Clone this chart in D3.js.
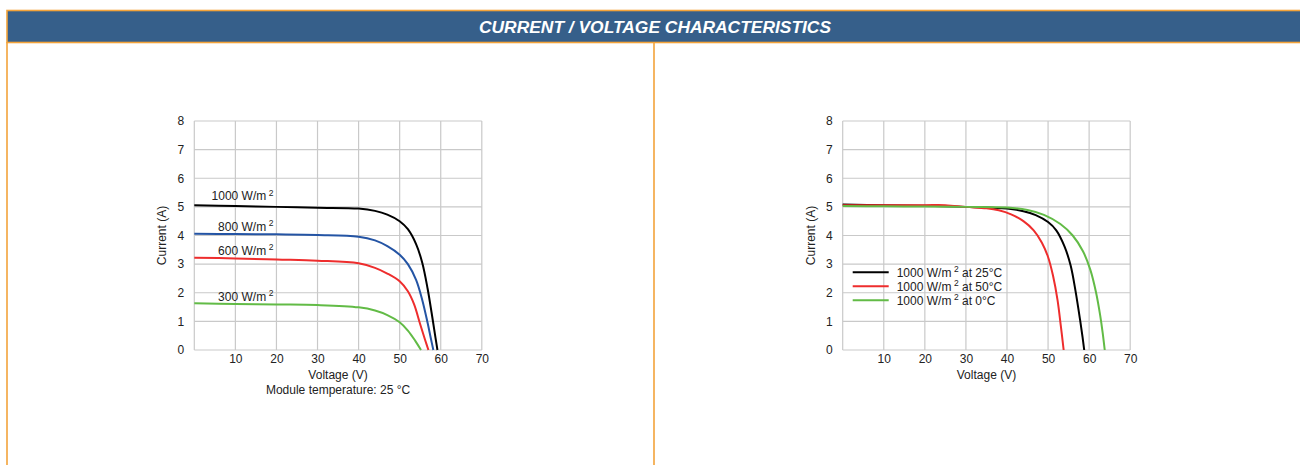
<!DOCTYPE html>
<html>
<head>
<meta charset="utf-8">
<script src="https://cdn.jsdelivr.net/npm/d3@7"></script>
<style>
  body { margin: 0; background: #fff; }
  svg { display: block; font-family: "Liberation Sans", Arial, sans-serif; }
</style>
</head>
<body>
<svg id="page" width="1300" height="465"></svg>
<script>
// ---- data ----
const pageTitle = "CURRENT / VOLTAGE CHARACTERISTICS";
const xTicks = [10, 20, 30, 40, 50, 60, 70];
const yTicks = [0, 1, 2, 3, 4, 5, 6, 7, 8];

// left chart: irradiance at 25 °C  [voltage, current]
const irr1000 = [[0, 5.06], [10, 5.03], [20, 5.0], [30, 4.97], [40, 4.94], [44, 4.86], [47, 4.73], [50, 4.5], [52, 4.22], [54, 3.7], [55.5, 3.05], [56.8, 2.15], [58, 1.1], [58.7, 0.45], [59.2, 0]];
const irr800 = [[0, 4.06], [10, 4.05], [20, 4.04], [30, 4.02], [40, 3.96], [44, 3.83], [47, 3.63], [50, 3.33], [52, 3.0], [54, 2.45], [55.5, 1.75], [56.8, 0.95], [57.6, 0.4], [58.2, 0]];
const irr600 = [[0, 3.22], [10, 3.2], [20, 3.16], [30, 3.12], [40, 3.03], [44, 2.87], [47, 2.67], [50, 2.4], [52, 2.05], [53.5, 1.6], [55, 0.9], [56.2, 0.35], [57, 0]];
const irr300 = [[0, 1.63], [10, 1.61], [20, 1.59], [30, 1.57], [40, 1.49], [44, 1.38], [47, 1.22], [50, 0.97], [52, 0.68], [53.8, 0.32], [55.2, 0]];
const irrNames = ["1000 W/m", "800 W/m", "600 W/m", "300 W/m"];
const irrColors = ["#000000", "#2454a4", "#ee2d2d", "#62bb46"];
const irrLabelAt = [[4.2, 5.24], [5.8, 4.17], [5.8, 3.32], [5.8, 1.72]]; // label anchor [V, A]

// right chart: 1000 W/m² at different temperatures
const temp25 = [[0, 5.08], [10, 5.06], [20, 5.04], [30, 5.0], [40, 4.94], [44, 4.85], [47, 4.71], [50, 4.47], [52, 4.18], [54, 3.62], [55.5, 2.95], [56.7, 2.05], [57.8, 1.05], [58.4, 0.45], [58.8, 0]];
const temp50 = [[0, 5.06], [10, 5.06], [20, 5.06], [25, 5.06], [30, 5.0], [35, 4.95], [38, 4.88], [41, 4.74], [44, 4.5], [46.5, 4.18], [48.5, 3.75], [50, 3.25], [51.2, 2.6], [52.3, 1.75], [53.1, 0.85], [53.8, 0]];
const temp0 = [[0, 5.03], [10, 5.02], [20, 5.01], [30, 5.0], [40, 4.98], [45, 4.89], [49, 4.72], [53, 4.4], [56, 4.0], [58.5, 3.45], [60.3, 2.8], [61.7, 2.0], [62.7, 1.2], [63.3, 0.6], [63.8, 0]];
const tempNames = ["1000 W/m|2| at 25°C", "1000 W/m|2| at 50°C", "1000 W/m|2| at 0°C"];
const tempColors = ["#000000", "#ee2d2d", "#62bb46"];

const svg = d3.select("#page");

// ---- header band and panel frame ----
const orange = "#f3a33a";
svg.append("rect").attr("x", 7).attr("y", 10.5).attr("width", 1300).attr("height", 32)
    .attr("fill", "#365f8a").attr("stroke", orange).attr("stroke-width", 1.6);
svg.append("line").attr("x1", 7).attr("x2", 7).attr("y1", 42).attr("y2", 465)
    .attr("stroke", orange).attr("stroke-width", 1.6);
svg.append("line").attr("x1", 654).attr("x2", 654).attr("y1", 42).attr("y2", 465)
    .attr("stroke", orange).attr("stroke-width", 1.6);
svg.append("text").attr("x", 655).attr("y", 33).attr("text-anchor", "middle")
    .attr("fill", "#fff").attr("font-size", 17.4).attr("font-weight", "bold").attr("font-style", "italic")
    .text(pageTitle);

// ---- one chart panel ----
function drawChart(left, series, colors) {
    const top = 121, width = 287.5, height = 229;
    const g = svg.append("g").attr("transform", `translate(${left}, ${top})`);

    const x = d3.scaleLinear().domain([0, 70]).range([0, width]);
    const y = d3.scaleLinear().domain([0, 8]).range([height, 0]);

    // grid
    g.append("g").selectAll("line").data([0].concat(xTicks)).join("line")
        .attr("x1", d => x(d)).attr("x2", d => x(d)).attr("y1", 0).attr("y2", height)
        .attr("stroke", "#c9c9c9").attr("stroke-width", 1.2);
    g.append("g").selectAll("line").data(yTicks).join("line")
        .attr("x1", 0).attr("x2", width).attr("y1", d => y(d)).attr("y2", d => y(d))
        .attr("stroke", "#c9c9c9").attr("stroke-width", 1.2);

    // axes, labels only
    const xAxis = g.append("g").attr("transform", `translate(0, ${height})`)
        .call(d3.axisBottom(x).tickValues(xTicks).tickSize(0).tickPadding(4));
    const yAxis = g.append("g")
        .call(d3.axisLeft(y).tickValues(yTicks).tickSize(0).tickPadding(10));
    [xAxis, yAxis].forEach(a => {
        a.select(".domain").remove();
        a.selectAll("text").attr("font-size", 12).attr("fill", "#222")
            .attr("font-family", "'Liberation Sans', Arial, sans-serif");
    });

    // axis titles
    g.append("text").attr("x", width / 2).attr("y", height + 29).attr("text-anchor", "middle")
        .attr("font-size", 12).attr("fill", "#222").text("Voltage (V)");
    g.append("text").attr("transform", `translate(-28, ${y(4)}) rotate(-90)`)
        .attr("text-anchor", "middle").attr("font-size", 12).attr("fill", "#222").text("Current (A)");

    // curves
    const line = d3.line().x(d => x(d[0])).y(d => y(d[1])).curve(d3.curveCatmullRom.alpha(0.5));
    g.append("g").selectAll("path").data(series).join("path")
        .attr("d", line).attr("fill", "none")
        .attr("stroke", (d, i) => colors[i]).attr("stroke-width", 2);

    return { g, x, y, width, height };
}

// superscript helper: "a|2|b" -> a, raised 2, b
function supText(sel, str) {
    const parts = str.split("|");
    sel.append("tspan").text(parts[0]);
    sel.append("tspan").attr("font-size", 8.5).attr("dx", 2.5).attr("dy", -4.5).text(parts[1]);
    if (parts[2]) sel.append("tspan").attr("dy", 4.5).text(parts[2]);
}

// left chart
const c1 = drawChart(194.3, [irr1000, irr800, irr600, irr300], irrColors);
irrNames.forEach((name, i) => {
    const t = c1.g.append("text").attr("x", c1.x(irrLabelAt[i][0])).attr("y", c1.y(irrLabelAt[i][1]))
        .attr("font-size", 12).attr("fill", "#222");
    supText(t, name + "|2|");
});
c1.g.append("text").attr("x", c1.width / 2).attr("y", c1.height + 44).attr("text-anchor", "middle")
    .attr("font-size", 12).attr("fill", "#222").text("Module temperature: 25 °C");

// right chart
const c2 = drawChart(842.7, [temp25, temp50, temp0], tempColors);
const legend = c2.g.append("g").attr("transform", `translate(10, ${c2.y(2.72)})`);
tempNames.forEach((name, i) => {
    legend.append("line").attr("x1", 0).attr("x2", 36).attr("y1", i * 14).attr("y2", i * 14)
        .attr("stroke", tempColors[i]).attr("stroke-width", 2);
    const t = legend.append("text").attr("x", 44).attr("y", i * 14 + 4.5)
        .attr("font-size", 12).attr("fill", "#222");
    supText(t, name);
});
</script>
</body>
</html>
